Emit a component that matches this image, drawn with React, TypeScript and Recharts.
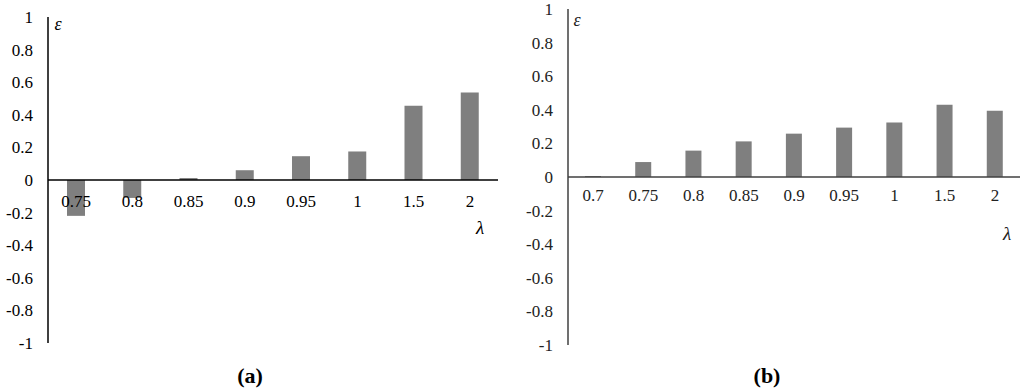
import React from 'react';
import { BarChart, Bar, XAxis, YAxis, ReferenceLine } from 'recharts';

const catsA = ['0.75', '0.8', '0.85', '0.9', '0.95', '1', '1.5', '2'];
const valsA = [-0.22, -0.11, 0.012, 0.06, 0.146, 0.175, 0.455, 0.537];

const catsB = ['0.7', '0.75', '0.8', '0.85', '0.9', '0.95', '1', '1.5', '2'];
const valsB = [0.006, 0.089, 0.157, 0.212, 0.258, 0.294, 0.324, 0.43, 0.395];

const yTicks = [-1, -0.8, -0.6, -0.4, -0.2, 0, 0.2, 0.4, 0.6, 0.8, 1];

const H = 392;
const FONT = 'Liberation Serif';

interface PanelProps {
  left: number;
  width: number;
  yAxisWidth: number;
  top: number;
  bottom: number;
  right: number;
  cats: string[];
  vals: number[];
  barSize: number;
  axisColor: string;
  textColor: string;
  labelDy: number;
  eps: [number, number];
  lambda: [number, number];
  caption: string;
  captionX: number;
}

function Panel(p: PanelProps) {
  const data = p.cats.map((name, i) => ({ name, value: p.vals[i] }));
  const zeroY = p.top + (H - p.top - p.bottom) / 2;

  const XTick = (props: any) => (
    <text
      x={props.x}
      y={zeroY + p.labelDy}
      textAnchor="middle"
      dy="0.35em"
      fontFamily={FONT}
      fontSize={17}
      fill={p.textColor}
    >
      {props.payload.value}
    </text>
  );

  return (
    <div style={{ position: 'absolute', left: p.left, top: 0, width: p.width, height: H, fontFamily: FONT }}>
      <BarChart
        width={p.width}
        height={H}
        data={data}
        margin={{ top: p.top, right: p.right, left: 0, bottom: p.bottom - 1 }}
      >
        <XAxis dataKey="name" height={1} axisLine={false} tickLine={false} tick={XTick} interval={0} />
        <YAxis
          width={p.yAxisWidth}
          domain={[-1, 1]}
          ticks={yTicks}
          interval={0}
          tickLine={false}
          tickSize={0}
          tickMargin={15}
          axisLine={{ stroke: p.axisColor, strokeWidth: 1.5 }}
          tick={{ fontSize: 17, fill: p.textColor, fontFamily: FONT }}
          tickFormatter={(v: number) => String(v)}
        />
        <Bar dataKey="value" fill="#7f7f7f" barSize={p.barSize} isAnimationActive={false} />
        <ReferenceLine y={0} stroke={p.axisColor} strokeWidth={1.5} />
      </BarChart>
      <span
        style={{
          position: 'absolute', left: p.eps[0] - p.left, top: p.eps[1], transform: 'translate(-50%, -50%)',
          fontFamily: FONT, fontStyle: 'italic', fontSize: 18, color: p.textColor, lineHeight: 1,
        }}
      >
        ε
      </span>
      <span
        style={{
          position: 'absolute', left: p.lambda[0] - p.left, top: p.lambda[1], transform: 'translate(-50%, -50%)',
          fontFamily: FONT, fontStyle: 'italic', fontSize: 19, color: p.textColor, lineHeight: 1,
        }}
      >
        λ
      </span>
      <span
        style={{
          position: 'absolute', left: p.captionX - p.left, top: 376, transform: 'translate(-50%, -50%)',
          fontFamily: FONT, fontWeight: 'bold', fontSize: 22, color: '#000', lineHeight: 1, whiteSpace: 'nowrap',
        }}
      >
        {p.caption}
      </span>
    </div>
  );
}

export default function App() {
  return (
    <div style={{ position: 'absolute', left: 0, top: 0, width: 1024, height: H, background: '#fff', overflow: 'hidden' }}>
      <Panel
        left={0}
        width={510}
        yAxisWidth={48}
        top={17}
        bottom={49}
        right={12}
        cats={catsA}
        vals={valsA}
        barSize={18}
        axisColor="#000"
        textColor="#000"
        labelDy={21}
        eps={[58, 24]}
        lambda={[480, 227]}
        caption="(a)"
        captionX={250}
      />
      <Panel
        left={512}
        width={512}
        yAxisWidth={56}
        top={9}
        bottom={47}
        right={4}
        cats={catsB}
        vals={valsB}
        barSize={16}
        axisColor="#404040"
        textColor="#222"
        labelDy={18}
        eps={[577, 20]}
        lambda={[1007, 233]}
        caption="(b)"
        captionX={767}
      />
    </div>
  );
}
